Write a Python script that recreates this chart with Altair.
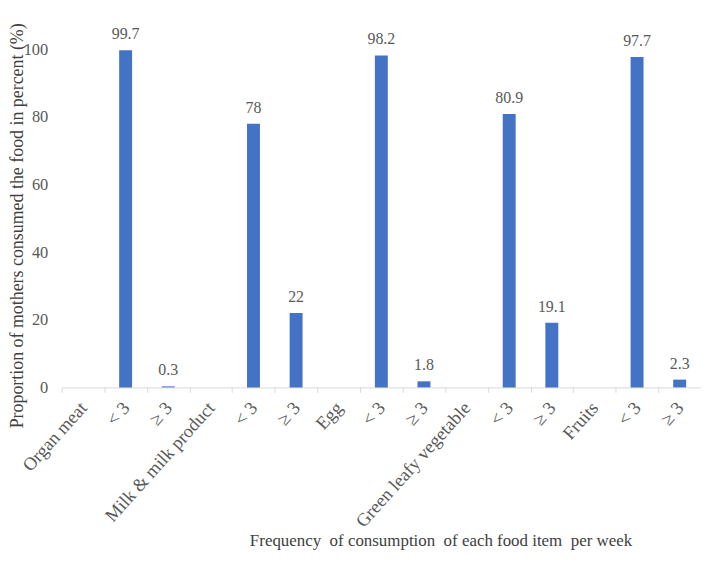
import altair as alt
import pandas as pd

labels = ["Organ meat", "< 3", "≥ 3", "Milk & milk product", "< 3", "≥ 3", "Egg",
          "< 3", "≥ 3", "Green leafy vegetable", "< 3", "≥ 3", "Fruits", "< 3", "≥ 3"]
values = [None, 99.7, 0.3, None, 78, 22, None, 98.2, 1.8, None, 80.9, 19.1, None, 97.7, 2.3]

keys = [str(i) for i in range(len(labels))]
df = pd.DataFrame({"key": keys, "value": values})
df = df.dropna().copy()
df["txt"] = df["value"].map(lambda v: f"{v:g}")

label_js = "[" + ",".join("'" + l + "'" for l in labels) + "]"
FONT = "Liberation Serif"
GRAY = "#595959"
NB = "\u00a0"

x = alt.X(
    "key:N",
    scale=alt.Scale(domain=keys, paddingInner=0, paddingOuter=0),
    sort=keys,
    axis=alt.Axis(
        title=f"Frequency{NB} of consumption{NB} of each food item{NB} per week",
        labelExpr=label_js + "[toNumber(datum.value)]",
        labelAngle=-48,
        labelAlign="right",
        labelBaseline="middle",
        labelPadding=12,
        labelFont=FONT,
        labelFontSize=18.5,
        labelColor=GRAY,
        tickBand="extent",
        tickSize=5,
        tickColor="#D9D9D9",
        domainColor="#D9D9D9",
        titleFont=FONT,
        titleFontSize=17,
        titleFontWeight="normal",
        titleColor="#404040",
        titleX=381,
        titleY=146,
        titleBaseline="top",
        titleAlign="center",
    ),
)

y = alt.Y(
    "value:Q",
    scale=alt.Scale(domain=[0, 100]),
    axis=alt.Axis(
        title="Proportion of mothers consumed the food in percent (%)",
        values=[0, 20, 40, 60, 80, 100],
        grid=False,
        domain=False,
        ticks=False,
        labelPadding=14,
        labelFont=FONT,
        labelFontSize=16.5,
        labelColor=GRAY,
        titleFont=FONT,
        titleFontSize=18,
        titleFontWeight="normal",
        titleColor="#404040",
        titleX=-35,
        titleY=177,
        titleAlign="center",
    ),
)

bars = alt.Chart(df).mark_bar(size=13, color="#4472C4").encode(x=x, y=y)
text = alt.Chart(df).mark_text(
    baseline="bottom", dy=-8, font=FONT, fontSize=16, color=GRAY
).encode(x=x, y=y, text="txt:N")

chart = (
    alt.layer(bars, text)
    .properties(
        width=643,
        height=340,
        autosize=alt.AutoSizeParams(type="none"),
        padding={"left": 54, "top": 40, "right": 0, "bottom": 168},
    )
    .configure_view(stroke=None)
)

chart.save("out.html", embed_options={"renderer": "svg", "actions": False})
